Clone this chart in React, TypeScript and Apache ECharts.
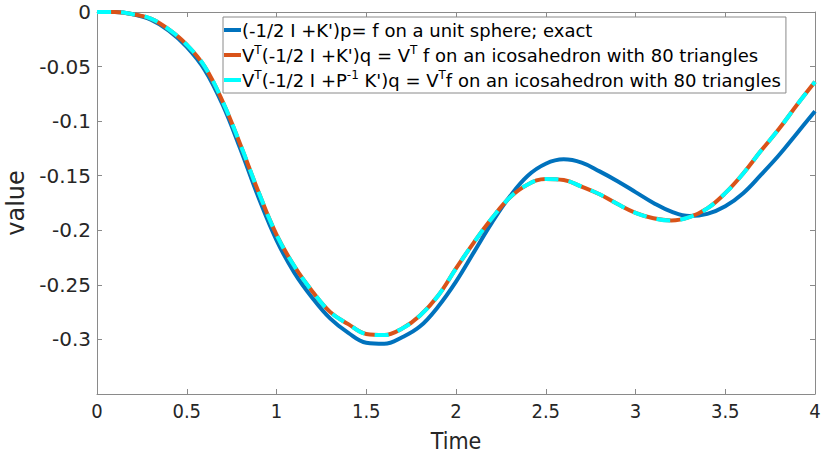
import React, { useEffect, useRef } from "react";
import * as echarts from "echarts";

const TIME = [0, 0.1, 0.2, 0.3, 0.4, 0.5, 0.6, 0.7, 0.8, 0.9, 1.0, 1.1, 1.2, 1.3, 1.4, 1.5, 1.6, 1.7, 1.8, 1.9, 2.0, 2.1, 2.2, 2.3, 2.4, 2.5, 2.6, 2.7, 2.8, 2.9, 3.0, 3.1, 3.2, 3.3, 3.4, 3.5, 3.6, 3.7, 3.8, 3.9, 4.0];

const EXACT = [0, 0, -0.002, -0.007, -0.017, -0.032, -0.053, -0.085, -0.126, -0.170, -0.209, -0.239, -0.262, -0.281, -0.294, -0.303, -0.304, -0.298, -0.288, -0.270, -0.247, -0.220, -0.193, -0.169, -0.150, -0.139, -0.135, -0.138, -0.146, -0.155, -0.165, -0.175, -0.183, -0.187, -0.185, -0.178, -0.166, -0.149, -0.131, -0.111, -0.091];

const ICOS = [0, 0, -0.002, -0.006, -0.016, -0.030, -0.050, -0.082, -0.122, -0.165, -0.204, -0.233, -0.256, -0.275, -0.286, -0.295, -0.296, -0.290, -0.278, -0.260, -0.235, -0.211, -0.189, -0.170, -0.158, -0.153, -0.154, -0.160, -0.167, -0.176, -0.184, -0.189, -0.191, -0.188, -0.180, -0.166, -0.148, -0.127, -0.107, -0.085, -0.064];

const ICOS_P = [0, 0, -0.002, -0.006, -0.016, -0.030, -0.050, -0.082, -0.122, -0.165, -0.204, -0.233, -0.256, -0.275, -0.286, -0.295, -0.296, -0.290, -0.278, -0.260, -0.235, -0.211, -0.189, -0.170, -0.158, -0.153, -0.154, -0.160, -0.167, -0.176, -0.184, -0.189, -0.191, -0.188, -0.180, -0.166, -0.148, -0.127, -0.107, -0.085, -0.064];

const SERIES_NAMES = ["exact", "icos", "icosP"];
const LEGEND_LABELS: Record<string, string> = {
  exact: "(-1/2 I +K')p= f on a unit sphere; exact",
  icos: "V{sup|T}(-1/2 I +K')q = V{sup|T} f on an icosahedron with 80 triangles",
  icosP: "V{sup|T}(-1/2 I +P{sup|-1} K')q = V{sup|T}f on an icosahedron with 80 triangles",
};

const X_MIN = 0, X_MAX = 4, X_STEP = 0.5;
const Y_MIN = -0.35, Y_MAX = 0, Y_STEP = 0.05;

const FONT = "DejaVu Sans";
const FONT_COND = "'DejaVu Sans Condensed', 'DejaVu Sans'";
const AXIS_COLOR = "#8a8a8a";
const TEXT_COLOR = "#262626";

function pairs(vals: number[]) {
  return TIME.map((t, i) => [t, vals[i]]);
}

export default function App() {
  const ref = useRef<HTMLDivElement>(null);
  useEffect(() => {
    if (!ref.current) return;
    const chart = echarts.init(ref.current, undefined, { renderer: "svg" });
    const yFmt = (v: number) => {
      const r = Math.round(v * 100) / 100;
      if (Math.abs(r - Y_MIN) < 1e-9) return "";
      return r === 0 ? "0" : String(r);
    };
    const xAxisBase = {
      type: "value" as const,
      min: X_MIN,
      max: X_MAX,
      interval: X_STEP,
      splitLine: { show: false },
      axisLine: { show: true, onZero: false, lineStyle: { color: AXIS_COLOR, width: 1 } },
      axisTick: { show: true, inside: true, length: 5, lineStyle: { color: AXIS_COLOR } },
    };
    const yAxisBase = {
      type: "value" as const,
      min: Y_MIN,
      max: Y_MAX,
      interval: Y_STEP,
      splitLine: { show: false },
      axisLine: { show: true, onZero: false, lineStyle: { color: AXIS_COLOR, width: 1 } },
      axisTick: { show: true, inside: true, length: 5, lineStyle: { color: AXIS_COLOR } },
    };
    chart.setOption({
      animation: false,
      backgroundColor: "#ffffff",
      grid: { left: 97, right: 6, top: 12, bottom: 65, containLabel: false, outerBoundsMode: "none" },
      xAxis: [
        {
          ...xAxisBase,
          position: "bottom",
          name: "Time",
          nameLocation: "middle",
          nameGap: 35,
          nameTextStyle: { fontFamily: FONT_COND, fontSize: 23, color: TEXT_COLOR },
          axisLabel: {
            fontFamily: FONT_COND,
            fontSize: 20,
            color: TEXT_COLOR,
            margin: 7,
            formatter: (v: number) => String(Math.round(v * 10) / 10),
          },
        },
        { ...xAxisBase, position: "top", axisLabel: { show: false } },
      ],
      yAxis: [
        {
          ...yAxisBase,
          position: "left",
          name: "value",
          nameLocation: "middle",
          nameGap: 67,
          nameRotate: 90,
          nameTextStyle: { fontFamily: FONT, fontSize: 24, color: TEXT_COLOR },
          axisLabel: { fontFamily: FONT, fontSize: 20, color: TEXT_COLOR, margin: 6, formatter: yFmt },
        },
        { ...yAxisBase, position: "right", axisLabel: { show: false } },
      ],
      legend: {
        show: true,
        orient: "vertical",
        left: 223,
        top: 17,
        padding: [2, 5, 2, 1],
        itemGap: 3,
        itemWidth: 17,
        itemHeight: 4,
        icon: "rect",
        borderColor: AXIS_COLOR,
        borderWidth: 1,
        backgroundColor: "#ffffff",
        data: SERIES_NAMES,
        formatter: (name: string) => LEGEND_LABELS[name],
        textStyle: {
          fontFamily: FONT,
          fontSize: 18,
          color: "#000",
          lineHeight: 22,
          padding: [0, 0, 0, -4],
          rich: {
            sup: { fontFamily: FONT, fontSize: 12, lineHeight: 14, verticalAlign: "top", color: "#000" },
          },
        },
      },
      series: [
        {
          name: SERIES_NAMES[0],
          type: "line",
          data: pairs(EXACT),
          showSymbol: false,
          symbol: "none",
          smooth: 0.4,
          color: "#0072BD",
          lineStyle: { width: 4, color: "#0072BD" },
          z: 2,
        },
        {
          name: SERIES_NAMES[1],
          type: "line",
          data: pairs(ICOS),
          showSymbol: false,
          symbol: "none",
          smooth: 0.4,
          color: "#D95319",
          lineStyle: { width: 4, color: "#D95319" },
          z: 3,
        },
        {
          name: SERIES_NAMES[2],
          type: "line",
          data: pairs(ICOS_P),
          showSymbol: false,
          symbol: "none",
          smooth: 0.4,
          color: "#00FFFF",
          lineStyle: { width: 4, color: "#00FFFF", type: [14, 10] },
          z: 4,
        },
      ],
    });
    return () => chart.dispose();
  }, []);
  return (
    <div
      ref={ref}
      style={{ position: "fixed", left: 0, top: 0, width: 821, height: 459 }}
    />
  );
}
